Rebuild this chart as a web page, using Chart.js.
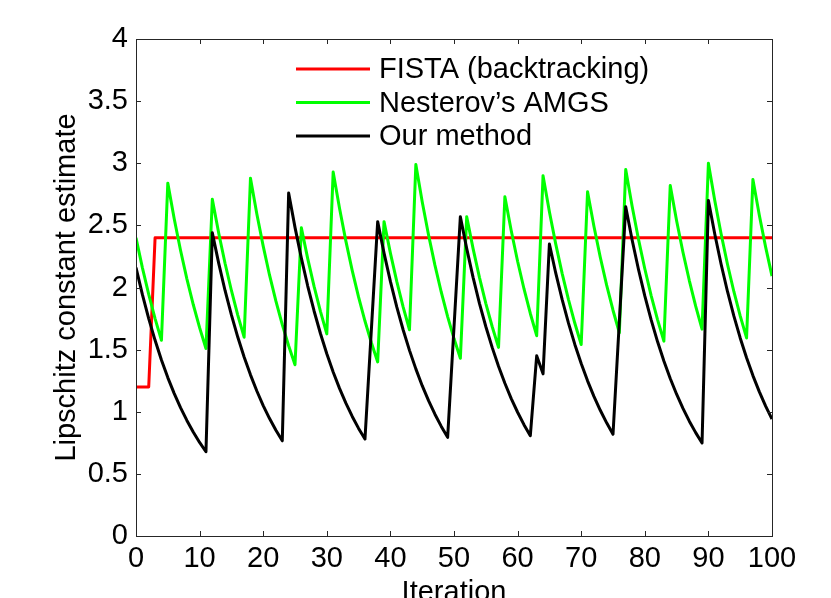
<!DOCTYPE html>
<html>
<head>
<meta charset="utf-8">
<script src="https://cdn.jsdelivr.net/npm/chart.js@4"></script>
<style>
  html, body { margin: 0; padding: 0; background: #fff; }
  canvas { display: block; }
</style>
</head>
<body>
<canvas id="lipschitz" width="831" height="598"></canvas>
<script>
// ── DATA ───────────────────────────────────────────────────────
const X_TICKS = [0, 10, 20, 30, 40, 50, 60, 70, 80, 90, 100];
const Y_TICKS = [0, 0.5, 1, 1.5, 2, 2.5, 3, 3.5, 4];

const ITERATIONS = Array.from({ length: 101 }, (_, i) => i);

// FISTA with backtracking: one jump, then flat
const FISTA_X = [0, 2, 3, 100];
const FISTA_Y = [1.2, 1.2, 2.4, 2.4];

// Nesterov's AMGS, iterations 0..100
const AMGS = [
  2.40, 2.16, 1.944, 1.750, 1.575, 2.84, 2.556, 2.300, 2.070, 1.863,
  1.677, 1.509, 2.71, 2.439, 2.195, 1.976, 1.778, 1.600, 2.88, 2.592,
  2.333, 2.099, 1.890, 1.701, 1.531, 1.378, 2.48, 2.232, 2.009, 1.808,
  1.627, 2.93, 2.637, 2.373, 2.136, 1.922, 1.730, 1.557, 1.401, 2.53,
  2.277, 2.049, 1.844, 1.660, 2.99, 2.691, 2.422, 2.180, 1.962, 1.766,
  1.589, 1.430, 2.57, 2.313, 2.082, 1.873, 1.686, 1.518, 2.73, 2.457,
  2.211, 1.990, 1.791, 1.612, 2.90, 2.61, 2.349, 2.114, 1.903, 1.712,
  1.541, 2.77, 2.493, 2.244, 2.019, 1.817, 1.636, 2.95, 2.655, 2.390,
  2.151, 1.935, 1.742, 1.568, 2.82, 2.538, 2.284, 2.056, 1.850, 1.665,
  3.00, 2.70, 2.43, 2.187, 1.968, 1.771, 1.594, 2.87, 2.583, 2.325,
  2.092,
];

// Our method, iterations 0..100
const OURS = [
  2.16, 1.944, 1.750, 1.575, 1.417, 1.275, 1.148, 1.033, 0.930, 0.837,
  0.753, 0.678, 2.44, 2.196, 1.976, 1.779, 1.601, 1.441, 1.297, 1.167,
  1.050, 0.945, 0.851, 0.766, 2.76, 2.484, 2.236, 2.012, 1.811, 1.630,
  1.467, 1.320, 1.188, 1.069, 0.962, 0.866, 0.780, 1.655, 2.53, 2.277,
  2.049, 1.844, 1.660, 1.494, 1.345, 1.210, 1.089, 0.980, 0.882, 0.794,
  1.68, 2.57, 2.313, 2.082, 1.873, 1.686, 1.518, 1.366, 1.229, 1.106,
  0.996, 0.896, 0.807, 1.45, 1.305, 2.35, 2.115, 1.904, 1.713, 1.542,
  1.388, 1.249, 1.124, 1.012, 0.911, 0.819, 1.73, 2.65, 2.385, 2.147,
  1.932, 1.739, 1.565, 1.408, 1.268, 1.141, 1.027, 0.924, 0.832, 0.748,
  2.70, 2.43, 2.187, 1.968, 1.771, 1.594, 1.435, 1.291, 1.162, 1.046,
  0.941,
];

// ── STYLE ──────────────────────────────────────────────────────
const FONT_FAMILY = '"Liberation Sans", Arial, Helvetica, sans-serif';
const FONT = { family: FONT_FAMILY, size: 29 };
const AXIS_COLOR = '#262626';
const TICK_LEN = 5;

const toPoints = (xs, ys) => ys.map((v, i) => ({ x: xs[i], y: v }));

// MATLAB-like box with inward ticks on all four sides
const boxPlugin = {
  id: 'box',
  afterDraw(chart) {
    const { ctx, chartArea: a, scales: { x, y } } = chart;
    ctx.save();
    ctx.strokeStyle = AXIS_COLOR;
    ctx.lineWidth = 1;
    ctx.strokeRect(a.left + .5, a.top + .5, a.right - a.left, a.bottom - a.top);
    ctx.beginPath();
    X_TICKS.forEach(v => {
      const px = Math.round(x.getPixelForValue(v)) + .5;
      ctx.moveTo(px, a.bottom); ctx.lineTo(px, a.bottom - TICK_LEN);
      ctx.moveTo(px, a.top);    ctx.lineTo(px, a.top + TICK_LEN);
    });
    Y_TICKS.forEach(v => {
      const py = Math.round(y.getPixelForValue(v)) + .5;
      ctx.moveTo(a.left, py);  ctx.lineTo(a.left + TICK_LEN, py);
      ctx.moveTo(a.right, py); ctx.lineTo(a.right - TICK_LEN, py);
    });
    ctx.stroke();
    ctx.restore();
  },
};

// Legend sits inside the axes, no frame
const legendPlugin = {
  id: 'insideLegend',
  afterDraw(chart) {
    const { ctx } = chart;
    const x0 = 296, x1 = 370, tx = 379, y0 = 69, dy = 33.5;
    ctx.save();
    ctx.font = `${FONT.size}px ${FONT_FAMILY}`;
    ctx.textBaseline = 'middle';
    ctx.fillStyle = '#000';
    chart.data.datasets.forEach((ds, i) => {
      const yy = y0 + i * dy;
      ctx.strokeStyle = ds.borderColor;
      ctx.lineWidth = ds.borderWidth;
      ctx.beginPath(); ctx.moveTo(x0, yy); ctx.lineTo(x1, yy); ctx.stroke();
      ctx.fillText(ds.label, tx, yy + 1);
    });
    ctx.restore();
  },
};

const lineDs = (label, data, color, order) => ({
  label, data, order,
  borderColor: color,
  backgroundColor: color,
  borderWidth: 3,
  borderJoinStyle: 'round',
  pointRadius: 0,
  tension: 0,
  fill: false,
});

new Chart(document.getElementById('lipschitz'), {
  type: 'line',
  data: {
    datasets: [
      lineDs('FISTA (backtracking)', toPoints(FISTA_X, FISTA_Y), '#ff0000', 2),
      lineDs('Nesterov\u2019s AMGS', toPoints(ITERATIONS, AMGS), '#00ff00', 1),
      lineDs('Our method', toPoints(ITERATIONS, OURS), '#000000', 0),
    ],
  },
  options: {
    responsive: false,
    animation: false,
    devicePixelRatio: 1,
    layout: { padding: { left: 0, top: 39, right: 59, bottom: 0 } },
    plugins: { legend: { display: false }, tooltip: { enabled: false } },
    scales: {
      x: {
        type: 'linear',
        min: 0, max: 100,
        afterBuildTicks: s => { s.ticks = X_TICKS.map(v => ({ value: v })); },
        afterFit: s => { s.height = 62; },
        grid: { display: false, drawTicks: false },
        border: { display: false },
        ticks: { color: '#000', font: FONT, padding: 6, maxRotation: 0, autoSkip: false, callback: v => `${v}` },
        title: { display: true, text: 'Iteration', color: '#000', font: FONT, padding: { top: 0, bottom: -12 } },
      },
      y: {
        min: 0, max: 4,
        afterBuildTicks: s => { s.ticks = Y_TICKS.map(v => ({ value: v })); },
        afterFit: s => { s.width = 136; },
        grid: { display: false, drawTicks: false },
        border: { display: false },
        ticks: { color: '#000', font: FONT, padding: 8, autoSkip: false, callback: v => `${v}` },
        title: { display: true, text: 'Lipschitz constant estimate', color: '#000', font: FONT, padding: { top: 50, bottom: 0 } },
      },
    },
  },
  plugins: [boxPlugin, legendPlugin],
});
</script>
</body>
</html>
